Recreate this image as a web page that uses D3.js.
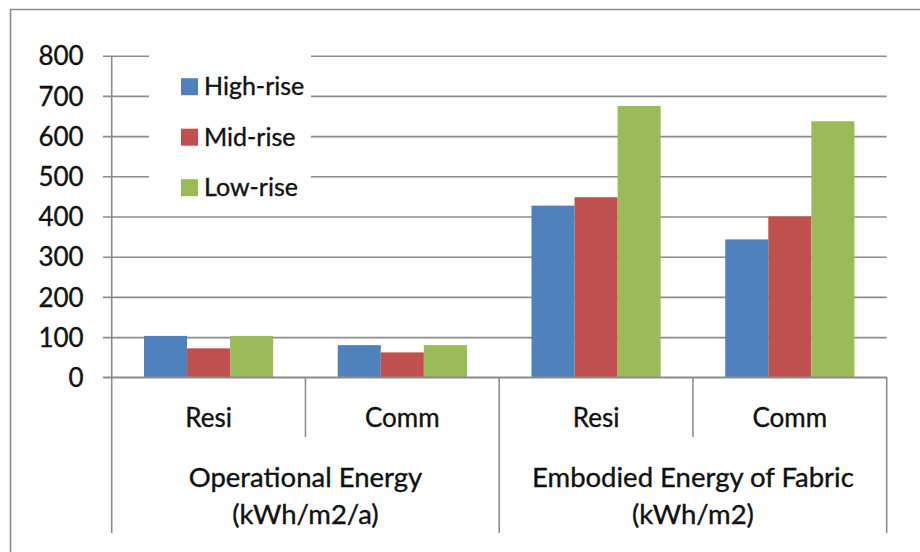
<!DOCTYPE html>
<html>
<head>
<meta charset="utf-8">
<script src="https://cdn.jsdelivr.net/npm/d3@7"></script>
<style>
  html, body { margin: 0; padding: 0; background: #fff; }
  svg { display: block; }
  text { font-family: Lato, "Open Sans", sans-serif; fill: #111; stroke: #111; stroke-width: 0.35px; }
</style>
</head>
<body>
<svg id="chart" width="920" height="552"></svg>
<script>
// ---- data ----
const categories = ["Resi", "Comm", "Resi", "Comm"];
const groupLabels = [["Operational Energy", "(kWh/m2/a)"], ["Embodied Energy of Fabric", "(kWh/m2)"]];
const seriesNames = ["High-rise", "Mid-rise", "Low-rise"];
const highRise = [103, 80, 427, 343];
const midRise  = [72, 62, 448, 400];
const lowRise  = [103, 80, 675, 637];
const yTicks = [0, 100, 200, 300, 400, 500, 600, 700, 800];

const seriesValues = [highRise, midRise, lowRise];
const colors = ["#4f81bd", "#c0504d", "#9bbb59"];
const gridColor = "#8c8c8c";

const svg = d3.select("#chart");

// frame
svg.append("path")
  .attr("d", "M10.5,552 L10.5,9.5 L920,9.5")
  .attr("fill", "none").attr("stroke", gridColor).attr("stroke-width", 1.6);

const pLeft = 111.7, pRight = 886.7, pTop = 55.7, pBottom = 377.3;

const y = d3.scaleLinear().domain([0, 800]).range([pBottom, pTop]);
const x = d3.scaleBand().domain(d3.range(categories.length)).range([pLeft, pRight]).padding(0);
const xs = d3.scaleBand().domain(d3.range(seriesNames.length)).range([0, x.bandwidth()])
  .paddingInner(0).paddingOuter(0.75);

// gridlines with y-axis
const yAxis = d3.axisLeft(y).tickValues(yTicks).tickSize(-(pRight - pLeft)).tickPadding(20);
const gy = svg.append("g").attr("transform", `translate(${pLeft},0)`).call(yAxis);
gy.select(".domain").remove();
gy.selectAll(".tick line").attr("stroke", gridColor).attr("stroke-width", 1.6)
  .attr("x1", -8.7);
gy.selectAll(".tick text").attr("font-size", 26).attr("font-family", "Lato, sans-serif")
  .attr("fill", "#111").attr("x", -28).attr("dy", "0.35em");

// bars
categories.forEach((c, i) => {
  seriesValues.forEach((vals, s) => {
    svg.append("rect")
      .attr("x", x(i) + xs(s))
      .attr("width", xs.bandwidth())
      .attr("y", y(vals[i]))
      .attr("height", y(0) - y(vals[i]))
      .attr("fill", colors[s]);
  });
});

// x-axis line
svg.append("line").attr("x1", pLeft - 8.7).attr("x2", pRight).attr("y1", y(0)).attr("y2", y(0))
  .attr("stroke", gridColor).attr("stroke-width", 1.6);

// y-axis line
svg.append("line").attr("x1", pLeft).attr("x2", pLeft).attr("y1", pTop).attr("y2", y(0))
  .attr("stroke", gridColor).attr("stroke-width", 1.6);

// category dividers
[0, 1, 2, 3, 4].forEach(d => {
  const xx = d < 4 ? x(d) : pRight;
  const long = (d % 2 === 0);
  svg.append("line").attr("x1", xx).attr("x2", xx)
    .attr("y1", y(0)).attr("y2", long ? 533 : 437)
    .attr("stroke", gridColor).attr("stroke-width", 1.6);
});

// category labels
categories.forEach((c, i) => {
  svg.append("text").attr("x", x(i) + x.bandwidth() / 2).attr("y", 418)
    .attr("dy", "0.35em").attr("text-anchor", "middle").attr("font-size", 26).text(c);
});

// group labels
groupLabels.forEach((lines, g) => {
  const cx = (x(g * 2) + (g * 2 + 2 < 4 ? x(g * 2 + 2) : pRight)) / 2;
  lines.forEach((ln, k) => {
    svg.append("text").attr("x", cx).attr("y", 477 + k * 37)
      .attr("dy", "0.35em").attr("text-anchor", "middle").attr("font-size", 27.5).text(ln);
  });
});

// legend
const lg = svg.append("g");
lg.append("rect").attr("x", 149).attr("y", 50).attr("width", 162).attr("height", 164).attr("fill", "#fff");
seriesNames.forEach((n, s) => {
  const cy = 86.7 + s * 50.5;
  lg.append("rect").attr("x", 181).attr("y", cy - 8.5).attr("width", 17).attr("height", 17).attr("fill", colors[s]);
  lg.append("text").attr("x", 204).attr("y", cy).attr("dy", "0.35em").attr("font-size", 25).text(n);
});
</script>
</body>
</html>
